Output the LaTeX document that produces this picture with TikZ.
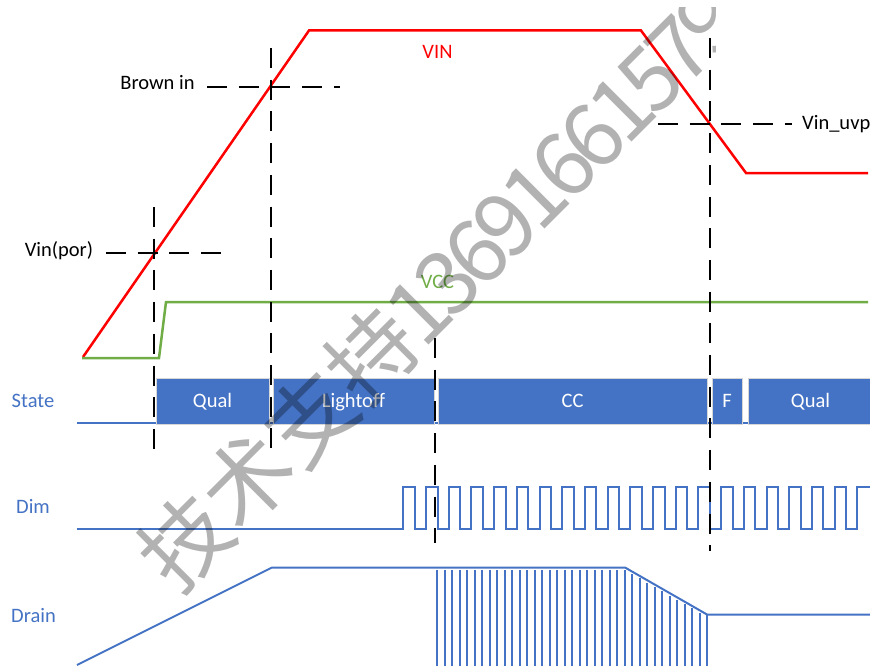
\documentclass[tikz,border=0pt]{standalone}
\usepackage{fontspec}
\setmainfont{Carlito}
\newfontfamily\wmcjk{Noto Sans CJK SC}
\definecolor{vinred}{HTML}{FF0000}
\definecolor{vccgreen}{HTML}{70AD47}
\definecolor{sigblue}{HTML}{4472C4}
\definecolor{boxedge}{HTML}{D6D6D6}
\newcommand{\wmd}[1]{\makebox[41pt]{#1}}
\begin{document}
\begin{tikzpicture}[x=1pt,y=-1pt,
  lbl/.style={font=\fontsize{20.5}{24}\selectfont, inner sep=0pt},
  sig/.style={sigblue, line width=2pt},
  vinline/.style={vinred, line width=2.5pt},
  vccline/.style={vccgreen, line width=2.5pt},
  guide/.style={black, line width=2.6pt, dash pattern=on 20pt off 11.7pt},
  statebox/.style={fill=sigblue, draw=boxedge, line width=1pt, inner sep=0pt,
    minimum height=46pt, text=white, font=\fontsize{20.5}{24}\selectfont,
    text height=13pt, text depth=0pt}]
\useasboundingbox (0,0) rectangle (870,666);

% text labels
\node[lbl, anchor=base] (brown) at (157.5,89.5) {Brown in};
\node[lbl, anchor=base] (vinpor) at (59,256) {Vin(por)};
\node[lbl, anchor=base west] (vinuvp) at (802,130) {Vin\_uvp};
\node[lbl, anchor=base, text=vinred] (vin) at (437.5,59) {VIN};
\node[lbl, anchor=base, text=vccgreen] (vcc) at (437.5,288) {VCC};
\node[lbl, anchor=base, text=sigblue] (state) at (33,407) {State};
\node[lbl, anchor=base, text=sigblue] (dim) at (33,513.3) {Dim};
\node[lbl, anchor=base, text=sigblue] (drain) at (33.5,622.3) {Drain};

% VIN and VCC
\draw[vinline] (83,357) -- (309,30.5) -- (641,30.5) -- (746,173) -- (868,173);
\draw[vccline] (82,358) -- (159,358) -- (166,302) -- (868,302);

% State
\draw[sig] (77,423) -- (870,423);
\node[statebox, minimum width=113pt] (qual1) at (212.5,401) {Qual};
\node[statebox, minimum width=161pt] (lightoff) at (353.5,401) {Lightoff};
\node[statebox, minimum width=269pt] (cc) at (572.5,401) {CC};
\node[statebox, minimum width=30pt] (fault) at (727,401) {F};
\node[statebox, minimum width=125pt] (qual2) at (810.5,401) {Qual};

% Dim
\draw[sig] (77,528.5)
  \foreach \k in {0,...,19} { -- ({403.3+22.7*\k},528.5) -- ++(0,-41.8) -- ++(11.5,0) -- ++(0,41.8) }
  -- (857.3,528.5) -- (857.3,486.7) -- (870,486.7);

% Drain
\draw[sig] (77,665) -- (272,567.5) -- (625,567.5) -- (707,614.5) -- (870,614.5);
\foreach \j in {0,...,35} {
  \pgfmathsetmacro\xx{437+7.5*\j}
  \pgfmathsetmacro\yy{max(570, 570+(\xx-625)*0.5732)}
  \draw[sig] (\xx,\yy) -- (\xx,666);
}
\draw[sig] (707,614.5) -- (707,666);

% guides
\draw[guide] (154,207) -- (154,450);
\draw[guide] (271,48) -- (271,452);
\draw[guide] (435,338) -- (435,543);
\draw[guide] (710,38) -- (710,551);
\draw[guide] (106,253) -- (222,253);
\draw[guide] (207,87) -- (340,87);
\draw[guide] (658,124) -- (792,124);

% watermark
\begin{scope}
\clip (0,8) rectangle (715,666);
\node[rotate=45, anchor=west, inner sep=0pt, text=black, text opacity=0.3] (wm) at (154,573)
  {\wmcjk\fontsize{88}{88}\selectfont 技术支持\wmd{1}\wmd{3}\wmd{6}\wmd{9}\wmd{1}\wmd{6}\wmd{6}\wmd{1}\wmd{5}\wmd{7}\wmd{9}};
\end{scope}
\end{tikzpicture}
\end{document}
